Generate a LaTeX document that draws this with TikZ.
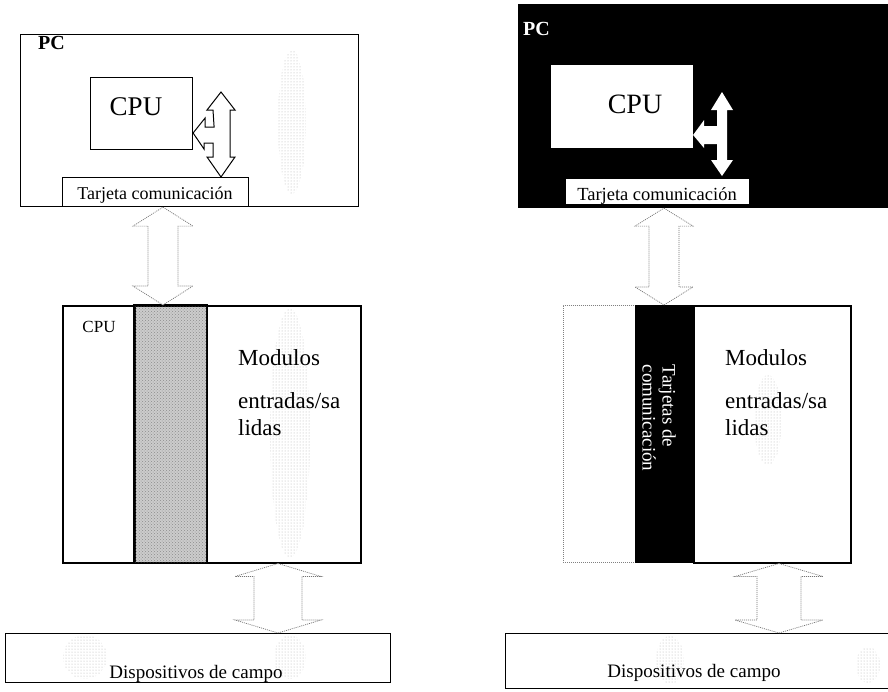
\documentclass[tikz,border=0pt]{standalone}
\usepackage{fontspec}
\setmainfont{Liberation Serif}
\usetikzlibrary{calc,patterns}
\newcommand\fs[1]{\fontsize{#1}{#1}\selectfont}
% block double arrow: style, top tip, bottom tip, shaft half width, head half width, head length
\newcommand\dblarrow[6]{%
  \draw[#1] (#2) -- ++(#5,#6) -- ++({-(#5-#4)},0) -- ($(#3)+(#4,-#6)$)
    -- ++({#5-#4},0) -- (#3) -- ++(-#5,-#6) -- ++({#5-#4},0)
    -- ($(#2)+(-#4,#6)$) -- ++({-(#5-#4)},0) -- cycle;}
\begin{document}
\begin{tikzpicture}[x=1pt,y=-1pt]
\tikzset{
  box/.style={draw, line width=1.1pt, rectangle, inner sep=0pt, anchor=north west},
  lbl/.style={inner sep=0pt, anchor=base},
  bigarrow/.style={draw=black!55, line width=0.7pt, dash pattern=on 1pt off 1pt, fill=white},
  stipple/.style={pattern=dots, pattern color=black!30},
}
\useasboundingbox (0,0) rectangle (888,691);
\fill[white] (0,0) rectangle (888,691);

% ---------------- left: PC with communication card ----------------
\node[box, minimum width=338, minimum height=172] (pc1) at (20,34) {};
\path[stipple] (292,122) ellipse (14 and 72);
\node[box, fill=white, minimum width=102, minimum height=72] (cpu1) at (90,77) {};
\node[box, fill=white, minimum width=186, minimum height=29] (tarj1) at (62,177) {};
\node[lbl, anchor=base west, font=\fs{20}\bfseries] (pcl1) at (38,49) {PC};
\node[lbl, font=\fs{27}] (cput1) at (136,115) {CPU};
\node[lbl, font=\fs{18}] (tarjt1) at (155,199) {Tarjeta comunicación};

% internal bus: vertical double arrow with a branch towards the CPU
\coordinate (bt1) at (221,92);
\coordinate (bb1) at (221,0 |- tarj1.north);
\coordinate (bl1) at (cpu1.east |- 0,133);
\draw[fill=white, line width=1pt, line join=miter]
  (bt1) -- ++(14,18) -- ++(-5,0) -- ($(bb1)+(9,-20)$) -- ++(5,0) -- (bb1)
  -- ++(-14,-20) -- ++(6,0) -- ++(0,-14) -- ++(-9,0) -- ++(0,6)
  -- (bl1) -- ++(12,-15) -- ++(0,9) -- ++(9,0) -- ($(bt1)+(-8,18)$)
  -- ++(-6,0) -- cycle;

% ---------------- left: PLC ----------------
\node[box, fill=white, line width=1.5pt, minimum width=298, minimum height=257] (plc1) at (62,305) {};
\path[stipple] (290,433) ellipse (20 and 125);
\node[box, fill=gray!40, line width=1.5pt, minimum width=72, minimum height=257] (col1) at (134,305) {};
\path[pattern=crosshatch dots, pattern color=black!45] (col1.north west) rectangle (col1.south east);
\draw[line width=1.5pt] (col1.north west) rectangle (col1.south east);
\node[lbl, font=\fs{17}] (cpus1) at (99,332) {CPU};
\node[lbl, anchor=base west, font=\fs{23}] (mod1) at (238,365) {Modulos};
\node[lbl, anchor=base west, font=\fs{23}] (ent1) at (238,408) {entradas/sa};
\node[lbl, anchor=base west, font=\fs{23}] (lid1) at (238,435) {lidas};

% ---------------- left: field devices ----------------
\node[box, minimum width=385, minimum height=49] (disp1) at (5,633) {};
\path[stipple] (85,657) ellipse (22 and 22);
\path[stipple] (290,657) ellipse (16 and 22);
\node[lbl, font=\fs{19}] (dispt1) at (196,678) {Dispositivos de campo};

% connectors (left)
\coordinate (a1t) at (163,0 |- tarj1.south);
\coordinate (a1b) at (163,0 |- plc1.north);
\dblarrow{bigarrow}{a1t}{a1b}{15}{30}{19}
\coordinate (a2t) at (278,0 |- plc1.south);
\coordinate (a2b) at (278,0 |- disp1.north);
\dblarrow{bigarrow}{a2t}{a2b}{24}{43}{13}

% ---------------- right: PC with communication card ----------------
\node[box, fill=black, minimum width=372, minimum height=203] (pc2) at (518,4) {};
\node[box, draw=none, fill=white, minimum width=142, minimum height=83] (cpu2) at (550,64) {};
\node[box, draw=none, fill=white, minimum width=183, minimum height=25] (tarj2) at (565,178) {};
\node[lbl, anchor=base west, font=\fs{20}\bfseries, text=white] (pcl2) at (523,35) {PC};
\node[lbl, font=\fs{28}] (cput2) at (635,113) {CPU};
\node[lbl, font=\fs{18.5}] (tarjt2) at (657,200) {Tarjeta comunicación};

\coordinate (bt2) at (722,92);
\coordinate (bb2) at (722,176);
\coordinate (bl2) at (cpu2.east |- 0,135);
\fill[white]
  (bt2) -- ++(11,18) -- ++(-6,0) -- ($(bb2)+(5,-16)$) -- ++(6,0) -- (bb2)
  -- ++(-11,-16) -- ++(6,0) -- ++(0,-16) -- ++(-13,0) -- ++(0,4)
  -- (bl2) -- ++(11,-15) -- ++(0,6) -- ++(13,0) -- ($(bt2)+(-5,18)$)
  -- ++(-6,0) -- cycle;

% ---------------- right: PLC ----------------
\node[box, draw=black!50, line width=0.7pt, dash pattern=on 1pt off 1pt, minimum width=72, minimum height=257] (left2) at (563,305) {};
\node[box, line width=1.5pt, fill=white, minimum width=157, minimum height=257] (plc2) at (693,305) {};
\path[stipple] (768,420) ellipse (14 and 45);
\node[box, fill=black, line width=0.8pt, minimum width=58, minimum height=257] (col2) at (635,305) {};
\node[inner sep=0pt, rotate=-90, align=left, text=white, font=\fs{19}] (vtxt2) at (659,418) {Tarjetas de\\[1pt]comunicación};
\node[lbl, anchor=base west, font=\fs{23}] (mod2) at (725,365) {Modulos};
\node[lbl, anchor=base west, font=\fs{23}] (ent2) at (725,408) {entradas/sa};
\node[lbl, anchor=base west, font=\fs{23}] (lid2) at (725,435) {lidas};

% ---------------- right: field devices ----------------
\node[box, minimum width=385, minimum height=55] (disp2) at (505,633) {};
\path[stipple] (670,660) ellipse (14 and 24);
\path[stipple] (868,665) ellipse (12 and 18);
\node[lbl, font=\fs{19}] (dispt2) at (694,677) {Dispositivos de campo};

% connectors (right)
\coordinate (a3t) at (664,0 |- pc2.south);
\coordinate (a3b) at (664,0 |- col2.north);
\dblarrow{bigarrow}{a3t}{a3b}{15}{29}{18}
\coordinate (a4t) at (779,0 |- plc2.south);
\coordinate (a4b) at (779,0 |- disp2.north);
\dblarrow{bigarrow}{a4t}{a4b}{22}{44}{13}
\end{tikzpicture}
\end{document}
